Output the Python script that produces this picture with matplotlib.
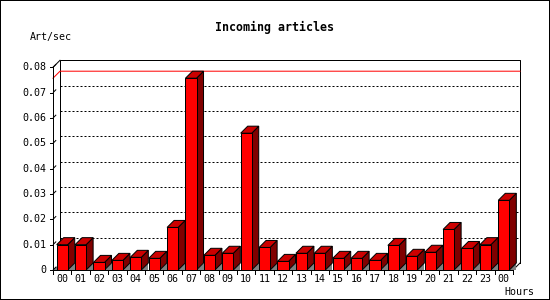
import matplotlib
matplotlib.use("Agg")
import matplotlib.pyplot as plt
from matplotlib.patches import Polygon, Rectangle
from matplotlib.transforms import offset_copy

hours = ["00", "01", "02", "03", "04", "05", "06", "07", "08", "09", "10", "11",
         "12", "13", "14", "15", "16", "17", "18", "19", "20", "21", "22", "23", "00"]
rates = [0.0100, 0.0100, 0.0030, 0.0038, 0.0050, 0.0046, 0.0168, 0.0757, 0.0058,
         0.0066, 0.0540, 0.0089, 0.0034, 0.0066, 0.0066, 0.0046, 0.0046, 0.0038,
         0.0097, 0.0054, 0.0070, 0.0160, 0.0085, 0.0100, 0.0275]
yticks = [0, 0.01, 0.02, 0.03, 0.04, 0.05, 0.06, 0.07, 0.08]
ytick_labels = ["0", "0.01", "0.02", "0.03", "0.04", "0.05", "0.06", "0.07", "0.08"]

title = "Incoming articles"
ylabel = "Art/sec"
xlabel = "Hours"

W, H, DPI = 550, 300, 100
LW = 72.0 / DPI          # one pixel in points
DEPTH = 7                # 3d depth in pixels
FONT = "DejaVu Sans Mono"

fig = plt.figure(figsize=(W / DPI, H / DPI), dpi=DPI)
ax = fig.add_axes([53 / W, 30 / H, 460 / W, 202.7 / H])
n = len(rates)
ymax = yticks[-1]
ax.set_xlim(0, n)
ax.set_ylim(0, ymax)
ax.axis("off")

# depth offset in data units
dx = DEPTH * n / 460.0
dy = DEPTH * ymax / 202.7

# back wall grid
for v in yticks[1:-1]:
    ax.plot([dx, n + dx], [v + dy, v + dy], color="black", lw=LW,
            linestyle=(0, (2, 2)), clip_on=False, zorder=1)

# back wall frame
ax.plot([dx, dx, n + dx, n + dx], [dy, ymax + dy, ymax + dy, dy],
        color="black", lw=LW, clip_on=False, zorder=2)
ax.plot([0, dx], [ymax, ymax + dy], color="black", lw=LW, clip_on=False, zorder=2)
ax.plot([n, n + dx], [0, dy], color="black", lw=LW, clip_on=False, zorder=2)

# max line
top = max(rates)
ax.plot([0, dx, n + dx], [top, top + dy, top + dy], color="#ff0000", lw=LW,
        clip_on=False, zorder=3)

# floor shadows
ax.add_patch(Polygon([(0, 0), (dx, 0), (dx, dy)], closed=True, facecolor="#808080",
                     edgecolor="none", zorder=4, clip_on=False))
for i in range(n):
    r = i + 0.8
    ax.add_patch(Polygon([(r, 0), (r + dx, 0), (r + dx, dy)], closed=True,
                         facecolor="#808080", edgecolor="none", zorder=4, clip_on=False))

# bars
for i, v in enumerate(rates):
    l, r = i + 0.2, i + 0.8
    z = 5 + i * 0.01
    ax.add_patch(Polygon([(r, 0), (r + dx, dy), (r + dx, v + dy), (r, v)], closed=True,
                         facecolor="#800000", edgecolor="black", lw=LW, zorder=z,
                         clip_on=False))
    ax.add_patch(Polygon([(l, v), (r, v), (r + dx, v + dy), (l + dx, v + dy)], closed=True,
                         facecolor="#cc0000", edgecolor="black", lw=LW, zorder=z,
                         clip_on=False))
    ax.add_patch(Rectangle((l, 0), 0.6, v, facecolor="#ff0000", edgecolor="black",
                           lw=LW, zorder=z + 0.001, clip_on=False))

# front axes
ax.plot([0, 0], [0, ymax], color="black", lw=LW, clip_on=False, zorder=10)
ax.plot([0, n], [0, 0], color="black", lw=LW, clip_on=False, zorder=10)

ylab_tr = offset_copy(ax.transData, fig=fig, x=-7, y=0, units="dots")
for v, lab in zip(yticks, ytick_labels):
    ax.plot([-3.5 * n / 460, 0], [v, v], color="black", lw=LW, clip_on=False, zorder=10)
    ax.plot([0.05 * dx, 0.4 * dx], [v + 0.05 * dy, v + 0.4 * dy], color="black",
            lw=LW, clip_on=False, zorder=10)
    ax.text(0, v, lab, transform=ylab_tr, ha="right", va="center",
            fontsize=7.2, family=FONT)

xlab_tr = offset_copy(ax.transData, fig=fig, x=0, y=-9.5, units="dots")
for k in range(n + 1):
    ax.plot([k, k], [0, -3.5 * ymax / 202.7], color="black", lw=LW, clip_on=False,
            zorder=10)
for i, lab in enumerate(hours):
    ax.text(i + 0.5, 0, lab, transform=xlab_tr, ha="center", va="center",
            fontsize=7.2, family=FONT)

fig.text(274.5 / W, 1 - 27 / H, title, ha="center", va="center", fontsize=8.4,
         family=FONT, fontweight="bold")
fig.text(30 / W, 1 - 37 / H, ylabel, ha="left", va="center", fontsize=7.2, family=FONT)
fig.text(504 / W, 1 - 292 / H, xlabel, ha="left", va="center", fontsize=7.2, family=FONT)

fig.patches.append(Rectangle((0, 0), 1, 1, transform=fig.transFigure, fill=False,
                             edgecolor="black", lw=2 * LW))

fig.savefig("out.png", dpi=DPI, facecolor="white")
